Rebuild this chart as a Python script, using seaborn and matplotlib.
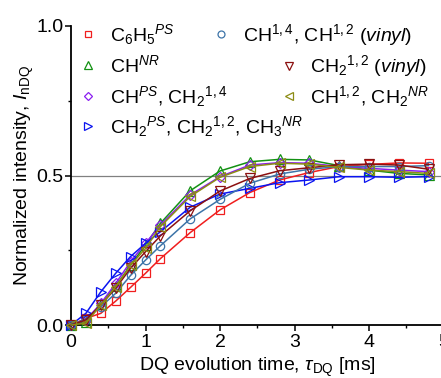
import numpy as np
import pandas as pd
import matplotlib
matplotlib.use("Agg")
import matplotlib.pyplot as plt
from matplotlib.lines import Line2D
from matplotlib.ticker import MultipleLocator, FormatStrFormatter
import seaborn as sns

# ---- data ----
t_ms = [0, 0.2, 0.4, 0.6, 0.8, 1.0, 1.2, 1.6, 2.0, 2.4, 2.8, 3.2, 3.6, 4.0, 4.4, 4.8]
c6h5_ps = [0, 0.022, 0.039, 0.080, 0.126, 0.173, 0.222, 0.309, 0.385, 0.443, 0.485, 0.510, 0.530, 0.537, 0.542, 0.541]
ch_nr = [0, 0.011, 0.070, 0.130, 0.200, 0.268, 0.340, 0.449, 0.515, 0.546, 0.554, 0.552, 0.533, 0.518, 0.507, 0.502]
ch_ps = [0, 0.017, 0.072, 0.139, 0.212, 0.273, 0.334, 0.435, 0.496, 0.535, 0.543, 0.541, 0.530, 0.524, 0.518, 0.513]
ch2_ps = [0, 0.039, 0.111, 0.173, 0.229, 0.273, 0.312, 0.394, 0.438, 0.457, 0.476, 0.485, 0.496, 0.496, 0.494, 0.496]
ch_14 = [0, 0.020, 0.061, 0.106, 0.166, 0.217, 0.265, 0.355, 0.420, 0.474, 0.505, 0.521, 0.530, 0.530, 0.530, 0.533]
ch2_12 = [0, 0.017, 0.067, 0.123, 0.190, 0.245, 0.298, 0.382, 0.448, 0.490, 0.516, 0.526, 0.536, 0.538, 0.535, 0.521]
ch_12 = [0, 0.006, 0.067, 0.128, 0.200, 0.256, 0.329, 0.430, 0.494, 0.530, 0.541, 0.538, 0.527, 0.518, 0.513, 0.507]

labels = [
    r'C$_6$H$_5$$^{\mathit{PS}}$',
    r'CH$^{\mathit{NR}}$',
    r'CH$^{\mathit{PS}}$, CH$_2$$^{\mathit{1,4}}$',
    r'CH$_2$$^{\mathit{PS}}$, CH$_2$$^{\mathit{1,2}}$, CH$_3$$^{\mathit{NR}}$',
    r'CH$^{\mathit{1,4}}$, CH$^{\mathit{1,2}}$ $\mathit{(vinyl)}$',
    r'CH$_2$$^{\mathit{1,2}}$ $\mathit{(vinyl)}$',
    r'CH$^{\mathit{1,2}}$, CH$_2$$^{\mathit{NR}}$',
]
series = [c6h5_ps, ch_nr, ch_ps, ch2_ps, ch_14, ch2_12, ch_12]
colors = ['#F01E1E', '#139113', '#8A1EF0', '#0A14F0', '#3D74A8', '#8B1010', '#8C8C14']
markers = ['s', '^', 'D', '>', 'o', 'v', '<']
msizes = [6.0, 7.0, 5.5, 7.0, 6.0, 7.0, 7.0]

# ---- style ----
sns.set_style('ticks')
plt.rcParams['font.family'] = ['Liberation Sans', 'DejaVu Sans']
plt.rcParams['mathtext.fontset'] = 'custom'
plt.rcParams['mathtext.rm'] = 'Liberation Sans'
plt.rcParams['mathtext.it'] = 'Liberation Sans:italic'
plt.rcParams['mathtext.bf'] = 'Liberation Sans:bold'

fig = plt.figure(figsize=(4.41, 3.78), dpi=100)
W, H = 441.0, 378.0
ax = fig.add_axes([71 / W, 53 / H, 372.5 / W, 299 / H])

ax.axhline(0.5, color='#808080', lw=0.9, zorder=0)

order = [0, 4, 5, 6, 1, 2, 3]
for i in order:
    df = pd.DataFrame({'t': t_ms, 'I': series[i]})
    sns.lineplot(data=df, x='t', y='I', ax=ax, color=colors[i], marker=markers[i],
                 markersize=msizes[i], markerfacecolor='none', markeredgecolor=colors[i],
                 markeredgewidth=0.9, lw=1.1, legend=False, clip_on=False, zorder=3 + i)

ax.set_xlim(0, 5)
ax.set_ylim(0, 1)
ax.xaxis.set_major_locator(MultipleLocator(1))
ax.xaxis.set_minor_locator(MultipleLocator(0.5))
ax.yaxis.set_major_locator(MultipleLocator(0.5))
ax.yaxis.set_minor_locator(MultipleLocator(0.25))
ax.yaxis.set_major_formatter(FormatStrFormatter('%.1f'))
ax.xaxis.set_major_formatter(FormatStrFormatter('%d'))

for s in ['top', 'right']:
    ax.spines[s].set_visible(False)
for s in ['left', 'bottom']:
    ax.spines[s].set_linewidth(1.3)
    ax.spines[s].set_color('black')
ax.tick_params(which='major', direction='out', length=4.3, width=1.1, color='black',
               labelsize=14, labelcolor='black')
ax.tick_params(which='minor', direction='out', length=2.5, width=1.0, color='black')
ax.tick_params(axis='y', which='major', pad=1.2)
ax.tick_params(axis='x', which='major', pad=2.2)

ax.set_xlabel(r'DQ evolution time, $\tau_{\mathrm{DQ}}$ [ms]', fontsize=14, color='black')
ax.set_ylabel(r'Normalized intensity, $I_{\mathrm{nDQ}}$', fontsize=14, color='black')
ax.xaxis.set_label_coords(0.5, -0.104)
ax.yaxis.set_label_coords((36 - 71) / 372.5, 0.5)

# ---- legend (placed entry by entry, like the reference layout) ----
# (marker x px, baseline y px, text x px)
leg_pos = [
    (88, 40.7, 110),
    (88, 71.7, 110),
    (88, 102.7, 110),
    (88, 133.0, 110),
    (221, 40.7, 243),
    (289, 72.5, 310),
    (289, 102.7, 310),
]
for i, (mx, by, tx) in enumerate(leg_pos):
    fig.add_artist(Line2D([mx / W], [1 - (by - 7) / H], transform=fig.transFigure,
                          marker=markers[i], markersize=msizes[i] - 1.0, markerfacecolor='none',
                          markeredgecolor=colors[i], markeredgewidth=0.9, linestyle='none'))
    fig.text(tx / W, 1 - by / H, labels[i], fontsize=14, va='baseline', ha='left', color='black')

fig.savefig('out.png', dpi=100)
